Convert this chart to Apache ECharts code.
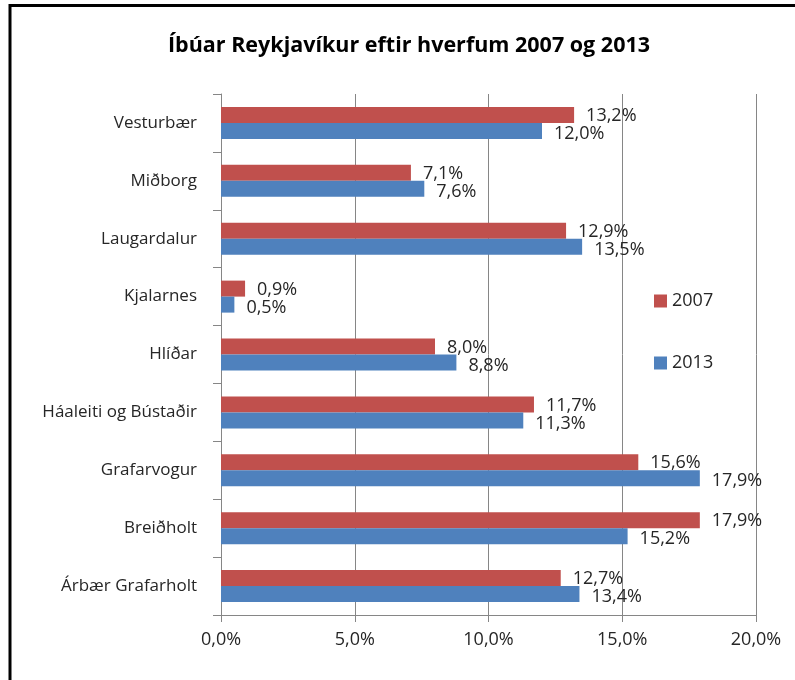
<!DOCTYPE html>
<html>
<head>
<meta charset="utf-8">
<script src="https://cdn.jsdelivr.net/npm/echarts@6/dist/echarts.min.js"></script>
<style>
    html, body { margin: 0; padding: 0; background: #fff; }
    #chart { width: 795px; height: 680px; }
</style>
</head>
<body>
<div id="chart"></div>
<script>
    // hverfi, ofan frá og niður
    var categories = ['Vesturbær', 'Miðborg', 'Laugardalur', 'Kjalarnes', 'Hlíðar',
        'Háaleiti og Bústaðir', 'Grafarvogur', 'Breiðholt', 'Árbær Grafarholt']
    var data2007 = [13.2, 7.1, 12.9, 0.9, 8.0, 11.7, 15.6, 17.9, 12.7]
    var data2013 = [12.0, 7.6, 13.5, 0.5, 8.8, 11.3, 17.9, 15.2, 13.4]
    var xTicks = [0, 5, 10, 15, 20]

    var font = 'Open Sans'
    var textColor = '#262626'
    var lineColor = '#868686'

    function pct (v) {
        return v.toFixed(1).replace('.', ',') + '%'
    }

    var chart = echarts.init(document.getElementById('chart'))
    var option = {
        animation: false,
        title: {
            text: 'Íbúar Reykjavíkur eftir hverfum 2007 og 2013',
            left: 404,
            top: 41,
            textAlign: 'center',
            textVerticalAlign: 'middle',
            textStyle: {
                fontFamily: font,
                fontWeight: 'bold',
                fontSize: 21.5,
                color: '#000'
            }
        },
        legend: {
            orient: 'vertical',
            left: 649,
            top: 286,
            itemWidth: 13,
            itemHeight: 13,
            itemGap: 42,
            icon: 'rect',
            textStyle: {
                fontFamily: font,
                fontSize: 18,
                lineHeight: 20,
                color: textColor
            },
            data: ['2007', '2013']
        },
        grid: {
            left: 221,
            right: 39,
            top: 94,
            bottom: 65
        },
        xAxis: {
            type: 'value',
            min: xTicks[0],
            max: xTicks[xTicks.length - 1],
            interval: 5,
            axisLine: { show: true, lineStyle: { color: lineColor } },
            axisTick: { show: true, length: 7, lineStyle: { color: lineColor } },
            splitLine: { show: true, lineStyle: { color: lineColor, width: 1 } },
            axisLabel: {
                margin: 16,
                fontFamily: font,
                fontSize: 18,
                color: textColor,
                formatter: function (v) { return pct(v) }
            }
        },
        yAxis: {
            type: 'category',
            inverse: true,
            data: categories,
            axisLine: { show: true, lineStyle: { color: lineColor } },
            axisTick: { show: true, length: 8, lineStyle: { color: lineColor } },
            axisLabel: {
                margin: 24,
                fontFamily: font,
                fontSize: 17,
                color: textColor
            }
        },
        series: [
            {
                name: '2007',
                type: 'bar',
                data: data2007,
                barWidth: 16,
                barGap: '0%',
                itemStyle: { color: '#C0504D' },
                label: {
                    show: true,
                    position: 'right',
                    distance: 12,
                    offset: [0, 1],
                    fontFamily: font,
                    fontSize: 18,
                    color: textColor,
                    formatter: function (p) { return pct(p.value) }
                }
            },
            {
                name: '2013',
                type: 'bar',
                data: data2013,
                barWidth: 16,
                barGap: '0%',
                itemStyle: { color: '#4F81BD' },
                label: {
                    show: true,
                    position: 'right',
                    distance: 12,
                    offset: [0, 3],
                    fontFamily: font,
                    fontSize: 18,
                    color: textColor,
                    formatter: function (p) { return pct(p.value) }
                }
            }
        ],
        graphic: [
            {
                // ramminn utan um myndina
                type: 'rect',
                shape: { x: 10, y: 5.5, width: 800, height: 700 },
                style: { fill: 'none', stroke: '#000', lineWidth: 3 },
                silent: true
            }
        ]
    }
    chart.setOption(option)
</script>
</body>
</html>
